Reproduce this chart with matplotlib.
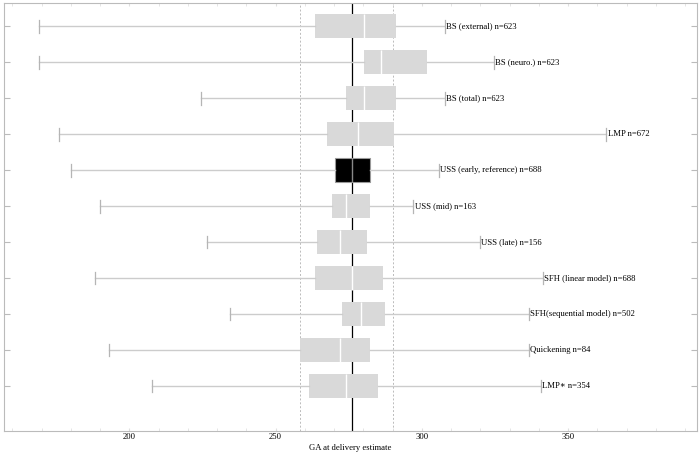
import matplotlib
matplotlib.use("Agg")
import matplotlib.pyplot as plt

labels = ["BS (external) n=623", "BS (neuro.) n=623", "BS (total) n=623", "LMP n=672",
          "USS (early, reference) n=688", "USS (mid) n=163", "USS (late) n=156",
          "SFH (linear model) n=688", "SFH(sequential model) n=502", "Quickening n=84",
          "LMP\u2217 n=354"]
whislo = [169.2, 169.2, 224.5, 176.0, 180.0, 190.0, 226.6, 188.3, 234.3, 192.9, 207.8]
q1 = [263.4, 280.2, 274.2, 267.5, 270.3, 269.2, 264.3, 263.5, 272.6, 258.4, 261.3]
med = [280.2, 286.2, 280.2, 278.1, 276.1, 274.2, 272.1, 276.1, 279.2, 272.1, 274.2]
q3 = [291.0, 301.9, 291.0, 290.5, 282.1, 282.1, 281.1, 286.8, 287.3, 282.1, 285.0]
whishi = [308.0, 324.6, 308.0, 363.1, 305.8, 297.1, 319.8, 341.5, 336.6, 336.6, 340.6]
ref_line = 276
dotted_lines = [258.3, 290.2]
xticks = [200, 250, 300, 350]

plt.rcParams['font.family'] = ['Liberation Serif', 'DejaVu Serif']

fig = plt.figure(figsize=(6.99, 4.55), dpi=100)
ax = fig.add_axes([4/699, 24/455, 693/699, 428/455])

for x in dotted_lines:
    ax.axvline(x, color='#bbbbbb', lw=0.7, ls=(0, (2, 2)), zorder=0)
ax.axvline(ref_line, color='black', lw=0.9, zorder=1)

stats = []
for i in range(len(labels)):
    stats.append(dict(whislo=whislo[i], q1=q1[i], med=med[i], q3=q3[i], whishi=whishi[i], fliers=[]))
positions = list(range(1, len(labels) + 1))
bp = ax.bxp(stats, positions=positions, vert=False, widths=0.67, patch_artist=True,
            showfliers=False, capwidths=0.36,
            boxprops=dict(facecolor='#d9d9d9', edgecolor='none', linewidth=0),
            medianprops=dict(color='white', linewidth=1.0),
            whiskerprops=dict(color='#cccccc', linewidth=1.0),
            capprops=dict(color='#b5b5b5', linewidth=0.9), zorder=2)
ref_idx = 4
bp['boxes'][ref_idx].set_facecolor('black')
bp['boxes'][ref_idx].set_edgecolor('#999999')
bp['boxes'][ref_idx].set_linewidth(0.8)
bp['medians'][ref_idx].set_color('#888888')

for i, lab in enumerate(labels):
    ax.text(whishi[i] + 0.4, positions[i], lab, va='center', ha='left', fontsize=6.2, zorder=3)

ax.set_xlim(157.1, 394.1)
ax.set_ylim(12.25, 0.36)
ax.set_yticks(positions)
ax.set_yticklabels([])
ax.set_xticks(xticks)
ax.set_xticklabels([str(t) for t in xticks], fontsize=6.2)
ax.set_xticks(range(160, 400, 10), minor=True)
ax.tick_params(axis='y', direction='in', length=4, color='#bbbbbb', left=True, right=True)
ax.tick_params(axis='x', which='both', direction='in', length=2, color='#e0e0e0', top=True, pad=1.5)
for s in ax.spines.values():
    s.set_color('#bbbbbb')
    s.set_linewidth(0.8)
ax.set_xlabel("GA at delivery estimate", fontsize=6.2, labelpad=2)

fig.savefig("out.png", dpi=100)
